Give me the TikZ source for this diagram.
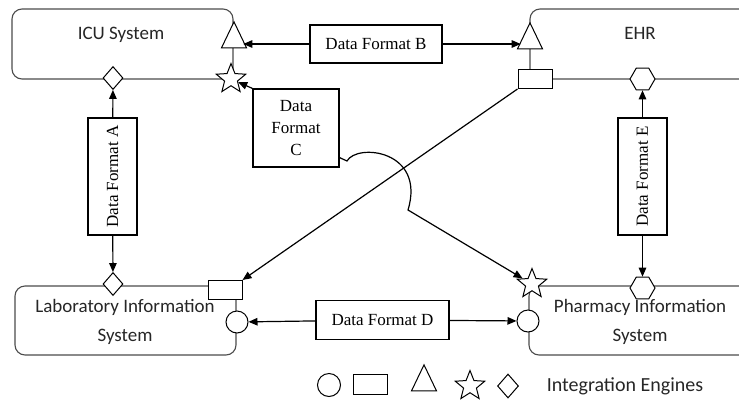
\documentclass[tikz,border=0pt]{standalone}
\usepackage{fontspec}
\usepackage{graphicx}
\setmainfont{Liberation Serif}
\newfontfamily\sysfont{Carlito}
\usetikzlibrary{shapes.geometric, arrows.meta}

\begin{document}
\begin{tikzpicture}[x = 1pt, y = -1pt,
        sysbox/.style = {draw = black!70, line width = 1.1pt, rounded corners = 10pt, inner sep = 0},
        syslabel/.style = {font = \sysfont\fontsize{19}{29}\selectfont, align = center, text = black!85},
        fmtbox/.style = {draw, line width = 1.2pt, fill = white, inner sep = 0, align = center,
            font = \fontsize{17}{22}\selectfont},
        engine/.style = {draw, line width = 1pt, fill = white, inner sep = 0},
        enginetri/.style = {engine, isosceles triangle, shape border rotate = 90, isosceles triangle stretches,
            minimum width = 25pt, minimum height = 26pt},
        enginehex/.style = {engine, regular polygon, regular polygon sides = 6, minimum size = 25pt},
        enginestar/.style = {engine, star, star points = 5, star point ratio = 2.3, minimum size = 31pt},
        enginedia/.style = {engine, diamond, minimum width = 20pt, minimum height = 23pt},
        enginecirc/.style = {engine, circle, minimum size = 22pt},
        enginerect/.style = {engine, rectangle, minimum width = 34pt, minimum height = 19pt},
        flow/.style = {line width = 1.2pt, -{Triangle[length = 9pt, width = 7.5pt]}}
    ]
    \path [use as bounding box, clip] (0, 0) rectangle (739, 400);

    % systems
    \node [sysbox, minimum width = 221pt, minimum height = 70pt] (icu) at (122.5, 44) {};
    \node [sysbox, minimum width = 240pt, minimum height = 70pt] (ehr) at (650, 44) {};
    \node [sysbox, minimum width = 221pt, minimum height = 69pt] (lab) at (125.5, 320.5) {};
    \node [sysbox, minimum width = 241pt, minimum height = 69pt] (pharm) at (649.5, 320.5) {};

    \node [syslabel] (icutext) at (121, 35) {ICU System};
    \node [syslabel] (ehrtext) at (640, 33) {EHR};
    \node [syslabel] (labtext) at (125, 322) {Laboratory Information\\System};
    \node [syslabel] (pharmtext) at (640, 322) {Pharmacy Information\\System};

    % integration engines
    \node [enginetri] (icutri) at (234, 40) {};
    \node [enginestar] (icustar) at (231, 79) {};
    \node [enginedia] (icudia) at (113, 78) {};
    \node [enginetri] (ehrtri) at (530, 41) {};
    \node [enginerect] (ehrrect) at (535, 79) {};
    \node [enginehex] (ehrhex) at (642.5, 79) {};
    \node [enginedia] (labdia) at (113, 284) {};
    \node [enginerect] (labrect) at (225, 290) {};
    \node [enginecirc] (labcirc) at (237, 322) {};
    \node [enginestar] (phstar) at (532, 284) {};
    \node [enginecirc] (phcirc) at (528, 321) {};
    \node [enginehex] (phhex) at (642.5, 288) {};

    % data formats
    \node [fmtbox, minimum width = 132pt, minimum height = 38pt] (fmtb) at (376, 44) {Data Format B};
    \node [fmtbox, minimum width = 49pt, minimum height = 117pt] (fmta) at (112.5, 176.5) {\rotatebox{90}{Data Format A}};
    \node [fmtbox, minimum width = 49pt, minimum height = 117pt] (fmte) at (642.5, 176.5) {\rotatebox{90}{Data Format E}};
    \node [fmtbox, minimum width = 86pt, minimum height = 78pt] (fmtc) at (296, 128) {Data\\Format\\C};
    \node [fmtbox, minimum width = 133pt, minimum height = 39pt] (fmtd) at (382.5, 320) {Data Format D};

    \draw [flow] (fmtb.west) -- (fmtb.west -| icutri.east);
    \draw [flow] (fmtb.east) -- (fmtb.east -| ehrtri.west);
    \draw [flow] (fmta) -- (icudia);
    \draw [flow] (fmta) -- (labdia);
    \draw [flow] (fmte) -- (ehrhex);
    \draw [flow] (fmte) -- (phhex);
    \draw [flow] (fmtd) -- (labcirc);
    \draw [flow] (fmtd) -- (phcirc);
    \draw [flow] (fmtc.north west) -- (icustar);
    \draw [flow, {Triangle[length = 9pt, width = 7.5pt]}-] (labrect.north east) -- (ehrrect.south west);

    % jump over the crossing line
    \coordinate (jumpin) at (347, 161);
    \coordinate (jumpout) at (408, 210);
    \draw [flow] ([yshift = 10pt]fmtc.south east) -- (jumpin)
        .. controls (357, 143) and (426, 150) .. (jumpout) -- (phstar);

    % legend
    \node [enginecirc, minimum size = 23pt] (legcirc) at (329, 385) {};
    \node [enginerect, minimum height = 20pt] (legrect) at (370, 384) {};
    \node [enginetri] (legtri) at (424, 383) {};
    \node [enginestar] (legstar) at (470, 386) {};
    \node [enginedia, minimum width = 21pt, minimum height = 24pt] (legdia) at (508, 386) {};
    \node [syslabel, font = \sysfont\fontsize{20}{24}\selectfont] (legtext) at (625, 386) {Integration Engines};
\end{tikzpicture}
\end{document}
